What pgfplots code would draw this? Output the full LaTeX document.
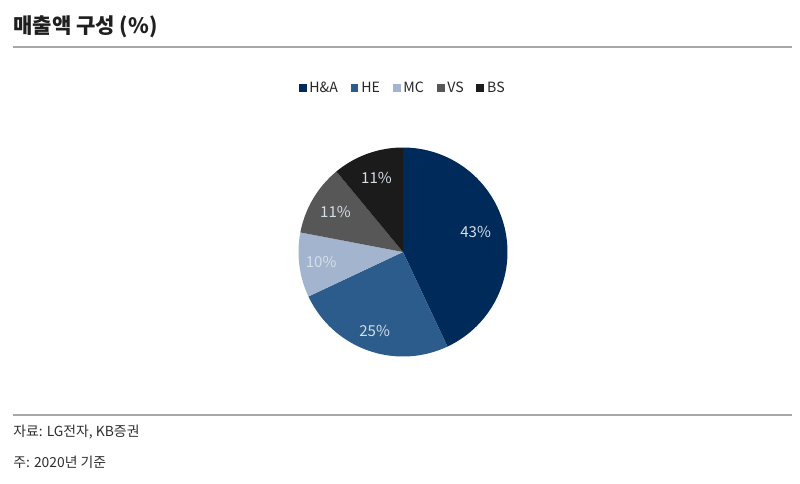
\documentclass[border=0pt]{standalone}
\usepackage{pgfplots}
\pgfplotsset{compat=1.18}
\usepackage{pgfplotstable}
\usepgfplotslibrary{polar}
\usepackage{fontspec}
\setmainfont{Noto Sans CJK KR}
\definecolor{cHA}{HTML}{002A5A}
\definecolor{cHE}{HTML}{2C5C8B}
\definecolor{cMC}{HTML}{A3B5CE}
\definecolor{cVS}{HTML}{575757}
\definecolor{cBS}{HTML}{1B1B1B}
\definecolor{lbl}{HTML}{D6DEE8}
\definecolor{rulec}{HTML}{A8A8A8}

\pgfplotstableread{
name value
HA 43
HE 25
MC 10
VS 11
BS 11
}\piedata

\begin{document}
\begin{tikzpicture}[x=0.75pt,y=-0.75pt]
\path[use as bounding box] (0,0) rectangle (800,484);
\coordinate (pc) at (403,252);
\node[anchor=west, font=\bfseries\fontsize{15.8}{18}\selectfont, inner sep=0, text=black!88] at (13,27) {매출액 구성 (\%)};
\draw[rulec, line width=1.4pt] (13,47) -- (792,47);
\draw[rulec, line width=1.2pt] (13,415) -- (792,415);
\node[anchor=west, font=\fontsize{10.4}{12}\selectfont, inner sep=0, text=black!82] at (13,432) {자료: LG전자, KB증권};
\node[anchor=west, font=\fontsize{10.4}{12}\selectfont, inner sep=0, text=black!82] at (13,462) {주: 2020년 기준};

\pgfplotstablegetelem{0}{value}\of\piedata \let\vA\pgfplotsretval
\pgfplotstablegetelem{1}{value}\of\piedata \let\vB\pgfplotsretval
\pgfplotstablegetelem{2}{value}\of\piedata \let\vC\pgfplotsretval
\pgfplotstablegetelem{3}{value}\of\piedata \let\vD\pgfplotsretval
\pgfplotstablegetelem{4}{value}\of\piedata \let\vE\pgfplotsretval
\pgfmathsetmacro\aA{90}
\pgfmathsetmacro\aB{\aA-3.6*\vA}
\pgfmathsetmacro\aC{\aB-3.6*\vB}
\pgfmathsetmacro\aD{\aC-3.6*\vC}
\pgfmathsetmacro\aE{\aD-3.6*\vD}
\pgfmathsetmacro\aF{\aE-3.6*\vE}
\pgfmathsetmacro\mA{(\aA+\aB)/2+2.5}
\pgfmathsetmacro\mB{(\aB+\aC)/2}
\pgfmathsetmacro\mC{(\aC+\aD)/2}
\pgfmathsetmacro\mD{(\aD+\aE)/2}
\pgfmathsetmacro\mE{(\aE+\aF)/2}

\begin{polaraxis}[
  at={(pc)}, anchor=origin,
  scale only axis, width=156.75pt, height=156.75pt,
  ymin=0, ymax=1, xmin=0, xmax=360,
  hide axis, clip=false,
  legend columns=5,
  legend style={draw=none, fill=none, at={(axis description cs:0.5,1.285)}, anchor=center,
    font=\fontsize{10.6}{12}\selectfont, text=black!85,
    /tikz/every odd column/.append style={column sep=0.5pt},
    /tikz/every even column/.append style={column sep=7.5pt}},
  legend image code/.code={\fill[#1] (0pt,-2.6pt) rectangle (5.2pt,2.6pt);},
]
\addplot[fill=cHA, draw=none, domain=\aB:\aA, samples=80, forget plot] {1} -- (axis cs:0,0) -- cycle;
\addplot[fill=cHE, draw=none, domain=\aC:\aB, samples=60, forget plot] {1} -- (axis cs:0,0) -- cycle;
\addplot[fill=cMC, draw=none, domain=\aD:\aC, samples=30, forget plot] {1} -- (axis cs:0,0) -- cycle;
\addplot[fill=cVS, draw=none, domain=\aE:\aD, samples=30, forget plot] {1} -- (axis cs:0,0) -- cycle;
\addplot[fill=cBS, draw=none, domain=\aF:\aE, samples=30, forget plot] {1} -- (axis cs:0,0) -- cycle;
\addlegendimage{cHA}\addlegendentry{H\&A}
\addlegendimage{cHE}\addlegendentry{HE}
\addlegendimage{cMC}\addlegendentry{MC}
\addlegendimage{cVS}\addlegendentry{VS}
\addlegendimage{cBS}\addlegendentry{BS}
\node[text=lbl, font=\fontsize{11.3}{13}\selectfont] at (axis cs:\mA,0.72) {\vA\%};
\node[text=lbl, font=\fontsize{11.3}{13}\selectfont] at (axis cs:\mB,0.80) {\vB\%};
\node[text=lbl, font=\fontsize{11.3}{13}\selectfont] at (axis cs:\mC,0.79) {\vC\%};
\node[text=lbl, font=\fontsize{11.3}{13}\selectfont] at (axis cs:\mD,0.75) {\vD\%};
\node[text=lbl, font=\fontsize{11.3}{13}\selectfont] at (axis cs:\mE,0.75) {\vE\%};
\end{polaraxis}
\end{tikzpicture}
\end{document}
